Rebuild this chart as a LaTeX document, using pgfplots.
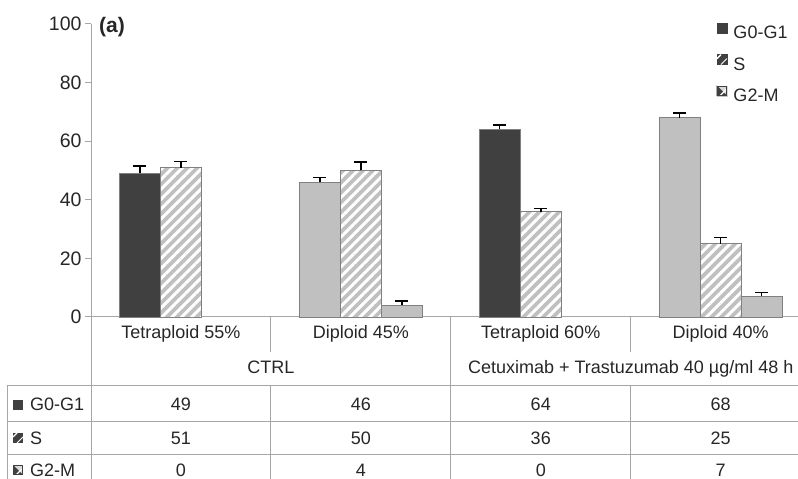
\documentclass[border=0pt]{standalone}
\usepackage{pgfplots}
\pgfplotsset{compat=1.18}
\usepackage{fontspec}
\setmainfont{Liberation Sans}
\usetikzlibrary{patterns.meta}
\definecolor{dk}{HTML}{404040}
\definecolor{lt}{HTML}{C0C0C0}
\definecolor{ax}{HTML}{A6A6A6}
\definecolor{txt}{HTML}{262626}
\definecolor{edge}{HTML}{808080}
\newcommand{\fs}{\fontsize{18bp}{20bp}\selectfont}
\pgfplotsset{
  eb/.style={error bars/.cd, y dir=plus, y explicit,
    error bar style={black,line width=1.5bp},
    error mark options={rotate=90, mark size=6.5bp, line width=1.5bp, black}},
}
\newcommand{\keyA}{\fill[dk] (0,1bp) rectangle (10bp,11bp);}
\newcommand{\keyB}{\fill[dk] (0,1bp) rectangle (10bp,11bp);\draw[white,line width=1.4bp] (0,7bp) -- (4bp,11bp);\draw[white,line width=1.0bp] (4bp,1bp) -- (10bp,7bp);}
\newcommand{\keyC}{\fill[lt!60] (0,1bp) rectangle (10bp,11bp);\fill[dk] (0,1bp) -- (10bp,1bp) -- (0,11bp) -- cycle;\draw[white,line width=1.2bp] (3bp,1bp) -- (10bp,8bp);\draw[dk,line width=0.6bp] (0.3bp,1.3bp) rectangle (9.7bp,10.7bp);}
\begin{document}
\begin{tikzpicture}[font=\fs, text=txt]
\path[use as bounding box] (0,0) rectangle (798bp,479bp);
\begin{axis}[
  at={(91bp,162bp)}, anchor=south west,
  scale only axis, width=707bp, height=293bp,
  xmin=-0.5, xmax=3.43, ymin=0, ymax=100,
  axis lines*=left,
  axis line style={ax, line width=1bp},
  xtick=\empty,
  ytick={0,20,40,60,80,100},
  tick align=outside,
  major tick length=6bp,
  tick style={ax, line width=1bp},
  yticklabel style={font=\fontsize{19.5bp}{20bp}\selectfont, text=txt},
  /pgf/number format/assume math mode=true,
  clip=false,
  bar width=0.228,
  legend style={at={(0.884,1.005)}, anchor=north west, draw=none, fill=none,
    inner sep=0pt, row sep=11.5bp, column sep=6bp,
    nodes={inner sep=0pt, text height=13bp, text depth=4bp, font=\fs, text=txt}},
  legend cell align=left,
]
% G0-G1 tetraploid (dark)
\addplot[ybar, bar shift=0pt, fill=dk, draw=edge, line width=0.6bp, forget plot, eb]
  coordinates {(-0.228,49) +- (0,2.6) (1.772,64) +- (0,1.6)};
% G0-G1 diploid (light)
\addplot[ybar, bar shift=0pt, fill=lt, draw=edge, line width=0.6bp, forget plot, eb]
  coordinates {(0.772,46) +- (0,1.6) (2.772,68) +- (0,1.7)};
% S (hatched)
\addplot[ybar, bar shift=0pt, fill=lt, draw=edge, line width=0.6bp, forget plot,
  postaction={pattern={Lines[angle=45,distance=7bp,line width=3bp]}, pattern color=white}, eb]
  coordinates {(0,51) +- (0,2.1) (1,50) +- (0,2.9) (2,36) +- (0,1.1) (3,25) +- (0,2.1)};
% G2-M
\addplot[ybar, bar shift=0pt, fill=lt, draw=edge, line width=0.6bp, forget plot, eb]
  coordinates {(1.228,4) +- (0,1.4) (3.228,7) +- (0,1.4)};
\addlegendimage{legend image code/.code={\keyA}}
\addlegendimage{legend image code/.code={\keyB}}
\addlegendimage{legend image code/.code={\keyC}}
\legend{G0-G1, S, G2-M}
\end{axis}
\node[anchor=base west, inner sep=0pt, font=\bfseries\fontsize{21bp}{22bp}\selectfont] at (99bp,446.5bp) {(a)};
% category labels
\node[anchor=base] at (180.95bp,140.7bp) {Tetraploid 55\%};
\node[anchor=base] at (360.85bp,140.7bp) {Diploid 45\%};
\node[anchor=base] at (540.75bp,140.7bp) {Tetraploid 60\%};
\node[anchor=base] at (720.65bp,140.7bp) {Diploid 40\%};
\node[anchor=base] at (270.9bp,105.7bp) {CTRL};
\node[anchor=base] at (630.7bp,105.7bp) {Cetuximab + Trastuzumab 40 µg/ml 48 h};
% table grid
\begin{scope}[draw=ax, line width=1bp]
\draw (91bp,162bp) -- (91bp,0);
\draw (450.8bp,162bp) -- (450.8bp,0);
\draw (270.9bp,162bp) -- (270.9bp,127bp);
\draw (630.7bp,162bp) -- (630.7bp,127bp);
\draw (7bp,93bp) -- (798bp,93bp);
\draw (7bp,57.5bp) -- (798bp,57.5bp);
\draw (7bp,24bp) -- (798bp,24bp);
\draw (7bp,93bp) -- (7bp,0);
\draw (270.9bp,93bp) -- (270.9bp,0);
\draw (630.7bp,93bp) -- (630.7bp,0);
\end{scope}
% row headers
\begin{scope}[shift={(13bp,68.3bp)}]\keyA\end{scope}
\begin{scope}[shift={(13bp,35bp)}]\keyB\end{scope}
\begin{scope}[shift={(13bp,3bp)}]\keyC\end{scope}
\node[anchor=base west, inner sep=0pt] at (30bp,68.3bp) {G0-G1};
\node[anchor=base west, inner sep=0pt] at (30bp,35bp) {S};
\node[anchor=base west, inner sep=0pt] at (30bp,3bp) {G2-M};
% table values
\node[anchor=base] at (180.95bp,68.3bp) {49};
\node[anchor=base] at (360.85bp,68.3bp) {46};
\node[anchor=base] at (540.75bp,68.3bp) {64};
\node[anchor=base] at (720.65bp,68.3bp) {68};
\node[anchor=base] at (180.95bp,35bp) {51};
\node[anchor=base] at (360.85bp,35bp) {50};
\node[anchor=base] at (540.75bp,35bp) {36};
\node[anchor=base] at (720.65bp,35bp) {25};
\node[anchor=base] at (180.95bp,3bp) {0};
\node[anchor=base] at (360.85bp,3bp) {4};
\node[anchor=base] at (540.75bp,3bp) {0};
\node[anchor=base] at (720.65bp,3bp) {7};
\end{tikzpicture}
\end{document}
